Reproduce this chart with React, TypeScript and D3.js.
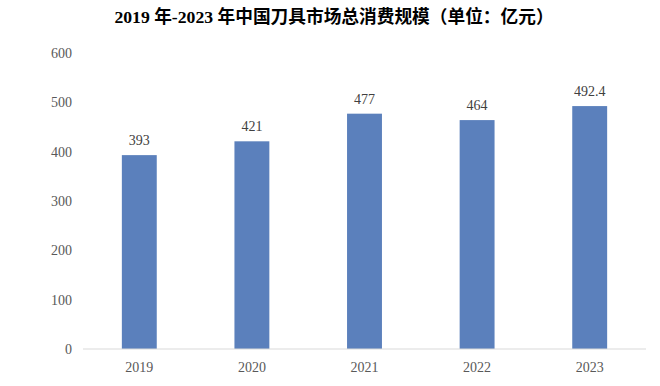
import React from "react";
import * as d3 from "d3";

const categories = ["2019", "2020", "2021", "2022", "2023"];
const values = [393, 421, 477, 464, 492.4];
const valueLabels = ["393", "421", "477", "464", "492.4"];
const yTicks = [0, 100, 200, 300, 400, 500, 600];
const title = "2019 年-2023 年中国刀具市场总消费规模（单位：亿元）";

export default function App() {
  const W = 660, H = 386;
  const x = d3.scaleBand<string>().domain(categories).range([83, 646]).paddingInner(0.69).paddingOuter(0.345);
  const y = d3.scaleLinear().domain([0, 600]).range([349, 53]);
  const font = "'Liberation Serif', 'Times New Roman', serif";
  return (
    <svg width={W} height={H} style={{ position: "absolute", left: 0, top: 0, background: "#fff" }}>
      <text x={334} y={23} textAnchor="middle" fontFamily={"'Liberation Serif', 'Noto Sans CJK SC', serif"} fontWeight="bold" fontSize={17.7} fill="#000">{title}</text>
      {yTicks.map(t => (
        <text key={t} x={72} y={y(t)} dy="0.35em" textAnchor="end" fontFamily={font} fontSize={14} fill="#595959">{t}</text>
      ))}
      {categories.map((c, i) => (
        <g key={c}>
          <rect x={x(c)} y={y(values[i])} width={x.bandwidth()} height={y(0) - y(values[i])} fill="#5b80bc" />
          <text x={x(c)! + x.bandwidth() / 2} y={y(values[i]) - 10} textAnchor="middle" fontFamily={font} fontSize={14} fill="#404040">{valueLabels[i]}</text>
          <text x={x(c)! + x.bandwidth() / 2} y={372} textAnchor="middle" fontFamily={font} fontSize={14} fill="#595959">{c}</text>
        </g>
      ))}
      <line x1={83} x2={646} y1={y(0)} y2={y(0)} stroke="#d9d9d9" strokeWidth={1} />
    </svg>
  );
}
